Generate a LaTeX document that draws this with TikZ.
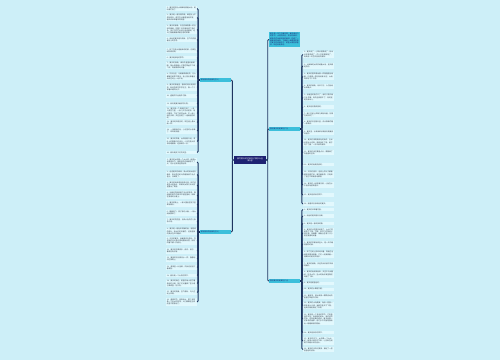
\documentclass[tikz,border=0pt]{standalone}
\usepackage{fontspec}
\newfontfamily\cjk{Noto Sans CJK SC}
\XeTeXlinebreaklocale "zh"
\XeTeXlinebreakskip=0pt plus 0.2pt
\usetikzlibrary{positioning}
\definecolor{bgcyan}{HTML}{CDEFF8}
\definecolor{leafcyan}{HTML}{E2F8FD}
\definecolor{branchteal}{HTML}{3CBFDB}
\definecolor{topicnavy}{HTML}{1E2272}
\definecolor{linknavy}{HTML}{1F3560}
\definecolor{leaftext}{HTML}{37424E}
\tikzset{x=1pt, y=-1pt,
tiny/.style={font=\cjk\fontsize{1.75}{2.2}\selectfont}, % all texts are this small
leaf/.style={ % one sentence
tiny,
fill=leafcyan,
text=leaftext,
text width=29pt,
align=left,
inner xsep=1pt,
inner ysep=0.7pt},
leafl/.style={leaf, anchor=east},
leafr/.style={leaf, anchor=west},
branch/.style={ % second level
tiny,
fill=branchteal,
text=topicnavy,
text width=29pt,
align=left,
inner xsep=1pt,
inner ysep=0.9pt},
topic/.style={ % the middle
font=\cjk\fontsize{1.9}{2.5}\selectfont,
fill=topicnavy,
text=white,
text width=30pt,
align=center,
inner xsep=1pt,
inner ysep=1.5pt},
link/.style={
draw=linknavy,
line width=0.9pt,
rounded corners=1pt}}

\begin{document}
\begin{tikzpicture}
\useasboundingbox[fill=bgcyan] (0,0) rectangle (500,360);

\node[topic] (summer) at (250,160) {描写夏天的优美句子摘抄大全\\（精选）};

\node[branch, anchor=east] (sumA) at (231,80) {描写夏天的优美句子(1)};
\node[branch, anchor=east] (sumB) at (231,232) {描写夏天的优美句子(2)};
\node[branch, anchor=west] (intro) at (269,39.5) {夏天是一年之中最热情、最充满活力的季节，火热的阳光、清凉的微风、鲜艳的花朵和欢快的蝉鸣，构成了一幅美丽的画卷。下面是小编整理的描写夏天的优美句子，希望大家能够喜欢，欢迎阅读参考。};
\node[branch, anchor=west] (sumC) at (269,129) {描写夏天的优美句子(3)};
\node[branch, anchor=west] (sumD) at (269,281) {描写夏天的优美句子(4)};

\draw[link] (summer.west) -- ++(-1.5,0) |- (sumA.east);
\draw[link] (summer.west) -- ++(-1.5,0) |- (sumB.east);
\draw[link] (summer.east) -- ++(1.5,0) |- (intro.west);
\draw[link] (summer.east) -- ++(1.5,0) |- (sumC.west);
\draw[link] (summer.east) -- ++(1.5,0) |- (sumD.west);

% left, first group
\foreach \yy/\txt [count=\i] in {
8.5/{1、夏天的阳光火辣辣地照着大地，树叶都打卷了。},
17.5/{2、夏天是一首热情的歌，蝉在树上不停地鸣叫，荷花在池塘里悄悄开放，微风吹来带着阵阵清香。},
29.5/{3、夏日的傍晚，天边的晚霞像一匹五彩的锦缎，把整个村庄都染成了金红色，孩子们在打谷场上追逐嬉戏，老人们摇着蒲扇讲着古老的故事。},
39.5/{4、雨后的夏天格外清新，空气中弥漫着泥土的芬芳。},
50.5/{5、知了在枝头唱着单调的歌，仿佛在喊热啊热啊。},
57.5/{6、夏天是绿色的季节。},
65.5/{7、夏天的夜晚，满天的星星眨着眼睛，萤火虫提着小灯笼在草丛中飞来飞去，青蛙呱呱地叫着。},
76.5/{8、烈日当空，马路被晒得发烫，行人都躲在树荫下乘凉，连小狗也伸着舌头趴在地上一动不动。},
87.5/{9、夏天的荷塘里，碧绿的荷叶挨挨挤挤，粉红的荷花亭亭玉立，像一个个穿着纱裙的仙子。},
96/{10、盛夏的午后格外宁静。},
104/{11、西瓜是夏天最好的礼物。},
113.5/{12、夏天像一个调皮的孩子，一会儿晴空万里，一会儿又乌云密布，电闪雷鸣，下起了倾盆大雨，不一会儿雨过天晴，天边挂起了一道美丽的彩虹。},
122.5/{13、夏天的风是热的，吹在脸上像火烤一样。},
131/{14、一场夏雨过后，小河里的水涨满了，哗哗地流着。},
141.5/{15、夏天的早晨，太阳刚刚升起，草叶上的露珠闪闪发光，小鸟在枝头欢快地唱着歌，迎接新的一天。},
152.5/{16、夏天是孩子们的天堂。}} {
\node[leafl] (la\i) at (197,\yy) {\txt};
\draw[link] (sumA.west) -- ++(-1.5,0) |- (la\i.east);
}

% left, second group
\foreach \yy/\txt [count=\i] in {
162/{1、夏天的太阳像一个大火球，烤得大地直冒热气，田野里的庄稼都低下了头，河水也变得温热起来。},
174.5/{2、走进夏天的森林，高大的树木遮天蔽日，阳光透过树叶的缝隙洒下点点金光，凉爽极了。},
185/{3、夏天的雨来得快去得也快，刚才还是豆大的雨点，转眼间太阳又从云层里露出了笑脸。},
195/{4、池塘边的柳树垂下长长的枝条，像姑娘的辫子在微风中轻轻摆动，倒映在清澈的水面上。},
204/{5、夏天的晚上，一家人围坐在院子里乘凉聊天。},
213/{6、蜻蜓低飞，燕子掠过水面，一场大雨就要来了。},
221/{7、夏天的花园里，五颜六色的花儿争奇斗艳。},
231.5/{8、夏天是一幅色彩斑斓的画，有碧绿的荷叶，有火红的石榴花，还有金黄的麦浪在风中翻滚。},
241/{9、炎热的夏天，我最喜欢去游泳，在清凉的河水里尽情地嬉戏玩耍，所有的暑气都一扫而光。},
251/{10、夏天的瓜果真多，西瓜、桃子、葡萄应有尽有。},
259/{11、夏夜的月光像流水一样，静静地泻在田野上。},
267.5/{12、麦田里一片金黄，农民伯伯正忙着收割。},
275.5/{13、夏天是一个火热的季节。},
283.5/{14、夏天的海边，蔚蓝的海水拍打着金色的沙滩，孩子们光着脚丫在沙滩上堆城堡、捡贝壳。},
292.5/{15、夏天的清晨，空气清新，鸟儿在树上欢唱。},
302/{16、盛夏时节，骄阳似火，整个城市像一个巨大的蒸笼，人们都躲在空调房里不愿意出门。}} {
\node[leafl] (lb\i) at (197,\yy) {\txt};
\draw[link] (sumB.west) -- ++(-1.5,0) |- (lb\i.east);
}

% right, first group
\foreach \yy/\txt [count=\i] in {
54.5/{1、夏天来了，小草长得更绿了，树木长得更茂盛了，花儿开得更鲜艳了，到处是一片生机勃勃的景象。},
66/{2、火辣辣的太阳炙烤着大地，连风都是热的。},
76.5/{3、夏天的雷声像战鼓一样轰隆隆地响着，闪电像一把利剑划破长空，大雨哗哗地下个不停。},
86.5/{4、夏天的傍晚，凉风习习，人们纷纷出来散步。},
97.5/{5、池塘里的荷花开了，有的才展开两三片花瓣，有的全部展开了，有的还是花骨朵儿。},
107/{6、夏天是热情奔放的。},
114.5/{7、蝉儿在树上声嘶力竭地叫着，好像在说热死了。},
122.5/{8、夏天的天空格外蓝，白云像棉花糖一样柔软。},
132.5/{9、夏日里，冰淇淋和冰镇西瓜是最受欢迎的。},
142.5/{10、夏天的田野是绿色的海洋，玉米长得比人还高，高粱涨红了脸，稻子弯下了腰，一派丰收的景象。},
152.5/{11、夏天的夜空繁星点点，像撒满了亮晶晶的宝石。},
164.5/{12、夏天的雨是调皮的。},
174.5/{13、炎热的夏天，连树上的叶子都被晒得无精打采，耷拉着脑袋，只有知了还在不知疲倦地歌唱。},
185/{14、夏天的小溪清澈见底，小鱼在水中自由地游来游去。},
195/{15、夏天是成长的季节。},
204/{16、我喜欢五彩缤纷的夏天。}} {
\node[leafr] (ra\i) at (303,\yy) {\txt};
\draw[link] (sumC.east) -- ++(1.5,0) |- (ra\i.west);
}

% right, second group
\foreach \yy/\txt [count=\i] in {
209.5/{1、夏天的风带着花香。},
216/{2、雨后的夏天格外凉爽。},
223.5/{3、夏天是一首欢快的歌。},
233/{4、夏天的公园里热闹极了，大人们在树荫下下棋、打牌，孩子们在草地上放风筝、捉蝴蝶，湖面上还有几只小船在慢慢地划着。},
244/{5、夏天的早晨凉爽宜人，是一天中最舒服的时候。},
254.5/{6、知了在树上拼命地叫着，青蛙在池塘里呱呱地唱着，它们一起演奏着一曲美妙的夏日交响乐。},
265/{7、夏天的傍晚，天边的云彩被夕阳染得通红。},
274.5/{8、夏天的雨说来就来，天空中乌云翻滚，狂风大作，豆大的雨点噼里啪啦地砸了下来。},
283/{9、夏天是蔚蓝色的。},
289/{10、夏天的水果甜又甜。},
296.5/{11、夏夜里，萤火虫像一颗颗流动的星星在草丛中闪烁。},
305.5/{12、夏天的大海真美，海浪一层接一层地涌上沙滩，海鸥在蓝天下飞翔，远处的渔船扬起了白帆。},
319/{13、夏天是一个多彩的季节，它有蓝蓝的天空，有绿绿的树木，有红红的花朵，还有金黄的麦浪，夏天就像一位神奇的画家，用它手中的画笔描绘出一幅幅美丽的图画。},
332.5/{14、夏天是快乐的季节。},
341/{15、夏天的中午，太阳像一个大火炉，烤得人喘不过气来，小狗趴在树荫下伸着长长的舌头。},
349.5/{16、夏天的风吹过麦田，掀起了一层层金色的波浪。}} {
\node[leafr] (rb\i) at (303,\yy) {\txt};
\draw[link] (sumD.east) -- ++(1.5,0) |- (rb\i.west);
}
\end{tikzpicture}
\end{document}
